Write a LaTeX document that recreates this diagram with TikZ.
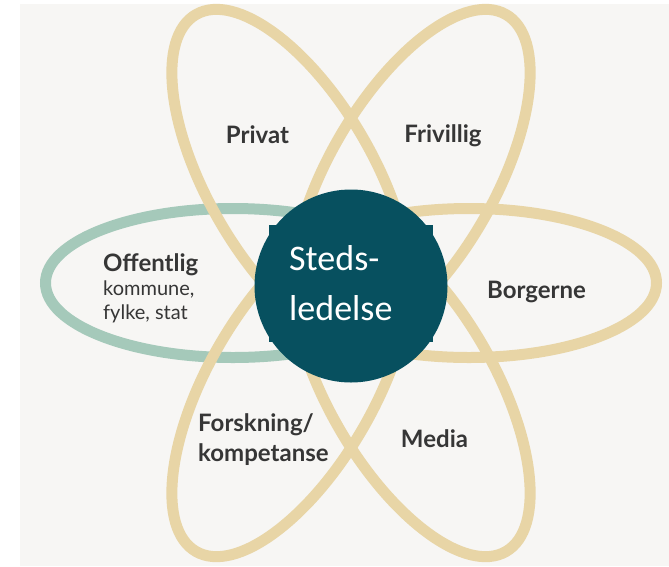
\documentclass[tikz,border=0pt]{standalone}
\usepackage{fontspec}
\setmainfont{Lato}
\newfontfamily\calibrifont{Carlito}
\definecolor{bgc}{HTML}{F7F6F4}
\definecolor{tanc}{HTML}{E8D5A6}
\definecolor{sagec}{HTML}{A5C9BA}
\definecolor{tealc}{HTML}{07505F}
\definecolor{txtc}{HTML}{363636}
\begin{document}
\begin{tikzpicture}[x=1pt,y=-1pt,
  petal/.style={draw=tanc, line width=11pt},
  lbl/.style={text=txtc, font=\fontsize{24}{30}\selectfont\bfseries, inner sep=0pt, anchor=base},
  sublbl/.style={text=txtc, font=\fontsize{20}{24}\selectfont, inner sep=0pt, anchor=base west, align=left},
]
\useasboundingbox (0,0) rectangle (669,566);
\fill[white] (0,0) rectangle (669,566);
\fill[bgc] (20,4) rectangle (669,566);
\coordinate (C) at (351,283);
% green petal (Offentlig)
\begin{scope}[shift={(C)}, rotate=180]
  \draw[petal, draw=sagec] (118pt,0pt) ellipse [x radius=187.5pt, y radius=74.5pt];
\end{scope}
% tan horizontal petal (Borgerne)
\begin{scope}[shift={(C)}, rotate=0]
  \draw[petal] (118pt,0pt) ellipse [x radius=187.5pt, y radius=74.5pt];
\end{scope}
% tan tilted petals
\foreach \ang in {60,120,240,300}{
  \begin{scope}[shift={(C)}, rotate=\ang]
    \draw[petal] (120pt,0pt) ellipse [x radius=190pt, y radius=83pt];
  \end{scope}
}
% hub
\node[circle, fill=tealc, inner sep=0pt, minimum size=193pt] (hubdisc) at (351,286) {};
\fill[tealc] (269,225) rectangle (433,342);
\node[anchor=base west, text=white, font=\calibrifont\fontsize{36}{50}\selectfont, align=left, inner sep=0pt] (hub) at (289,320) {Steds-\\ledelse};
% labels
\node[lbl] (privat) at (257.5,143) {Privat};
\node[lbl] (frivillig) at (443,142) {Frivillig};
\node[lbl] (borgerne) at (536.5,298) {Borgerne};
\node[lbl] (media) at (434.5,447) {Media};
\node[lbl, anchor=base west, align=left] (forskning) at (198,461) {Forskning/\\kompetanse};
\node[lbl, anchor=base west] (offentlig) at (103,271) {Offentlig};
\node[sublbl] (offsub) at (103,319) {kommune,\\fylke, stat};
\end{tikzpicture}
\end{document}
